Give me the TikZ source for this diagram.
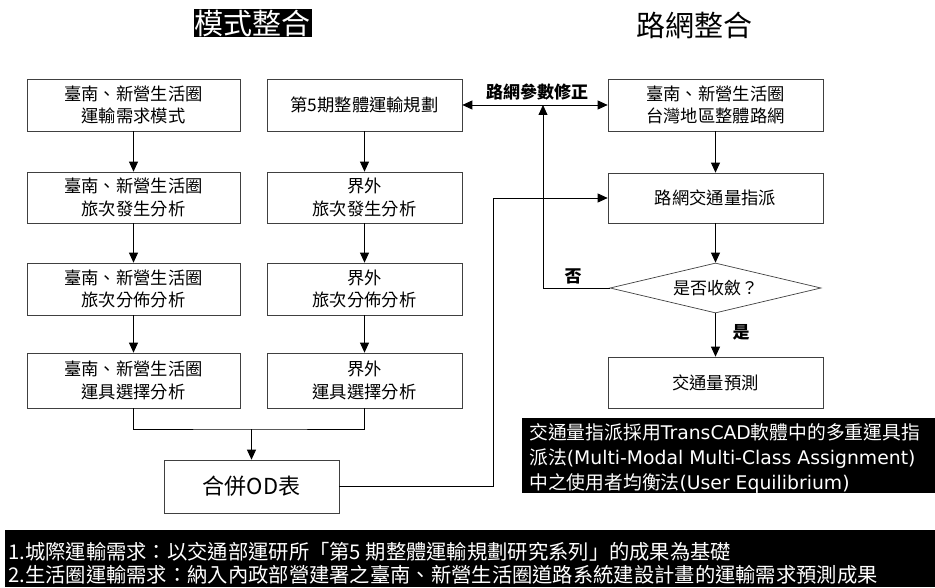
\documentclass[tikz,border=0pt]{standalone}
\usepackage{fontspec}
\setmainfont{Noto Sans CJK TC}
\newfontfamily\dejavu{DejaVu Sans}
\usetikzlibrary{arrows.meta,shapes.geometric}
\tikzset{
  flowbox/.style={draw=black!75, line width=0.7pt, align=center,
    font=\fontsize{17.3}{22.5}\selectfont, inner sep=0pt},
  arr/.style={-{Triangle[length=10pt,width=9pt]}, line width=0.8pt},
  ln/.style={line width=0.8pt},
  lbl/.style={font=\fontsize{17}{17}\selectfont\bfseries, inner sep=0pt},
  notetxt/.style={text=white, anchor=base west, inner sep=0pt, font=\fontsize{18.8}{18.8}\selectfont},
  bandtxt/.style={text=white, anchor=base west, inner sep=0pt, font=\fontsize{20.3}{20.3}\selectfont}
}
\begin{document}
\begin{tikzpicture}[x=1pt,y=-1pt]
\useasboundingbox (0,0) rectangle (935,588);
% titles
\node[fill=black, text=white, font=\fontsize{29}{29}\selectfont, inner sep=1pt] (t1) at (252.5,23) {模式整合};
\node[font=\fontsize{29}{29}\selectfont, inner sep=0pt] (t2) at (694.5,25) {路網整合};
% left column
\node[flowbox, minimum width=213pt, minimum height=52pt] (L1) at (133.5,105) {臺南、新營生活圈\\運輸需求模式};
\node[flowbox, minimum width=213pt, minimum height=51pt] (L2) at (133.5,197.5) {臺南、新營生活圈\\旅次發生分析};
\node[flowbox, minimum width=213pt, minimum height=52pt] (L3) at (133.5,289) {臺南、新營生活圈\\旅次分佈分析};
\node[flowbox, minimum width=213pt, minimum height=55pt] (L4) at (133.5,380.5) {臺南、新營生活圈\\運具選擇分析};
% middle column
\node[flowbox, minimum width=195pt, minimum height=52pt] (M1) at (364.5,105) {第5期整體運輸規劃};
\node[flowbox, minimum width=195pt, minimum height=51pt] (M2) at (364.5,197.5) {界外\\旅次發生分析};
\node[flowbox, minimum width=195pt, minimum height=52pt] (M3) at (364.5,289) {界外\\旅次分佈分析};
\node[flowbox, minimum width=195pt, minimum height=55pt] (M4) at (364.5,380.5) {界外\\運具選擇分析};
% OD
\node[flowbox, minimum width=175pt, minimum height=53pt, font=\fontsize{22}{22}\selectfont] (OD) at (251.5,486.5) {合併OD表};
% right column
\node[flowbox, minimum width=215pt, minimum height=52pt] (R1) at (715.5,105) {臺南、新營生活圈\\台灣地區整體路網};
\node[flowbox, minimum width=215pt, minimum height=50pt] (R2) at (715.5,198) {路網交通量指派};
\node[diamond, shape aspect=4.2, draw=black!75, line width=0.7pt, inner sep=0pt,
      minimum width=211pt, minimum height=50pt, font=\fontsize{17}{17}\selectfont] (D) at (715.5,288) {是否收斂？};
\node[flowbox, minimum width=215pt, minimum height=51pt] (R3) at (715.5,382.5) {交通量預測};
% connectors left/middle
\draw[arr] (L1.south) -- (L2.north);
\draw[arr] (L2.south) -- (L3.north);
\draw[arr] (L3.south) -- (L4.north);
\draw[arr] (M1.south) -- (M2.north);
\draw[arr] (M2.south) -- (M3.north);
\draw[arr] (M3.south) -- (M4.north);
\coordinate (mg) at (251.5,429);
\draw[ln] (L4.south) |- (mg) -| (M4.south);
\draw[arr] (mg) -- (OD.north);
% OD to assignment
\coordinate (jx) at (493,0);
\draw[arr] (OD.east) -- (OD.east -| jx) |- (R2.west);
% network parameter correction
\draw[{Triangle[length=10pt,width=9pt]}-{Triangle[length=10pt,width=9pt]}, line width=0.8pt] (M1.east) -- (R1.west);
\node[lbl] (pl) at (537,92) {路網參數修正};
% right column connectors
\draw[arr] (R1.south) -- (R2.north);
\draw[arr] (R2.south) -- (D.north);
\draw[arr] (D.south) -- (R3.north);
\coordinate (fb) at (543,105);
\draw[arr] (D.west) -| (fb);
\node[lbl] (no) at (573,276) {否};
\node[lbl] (yes) at (741,332) {是};
% note box
\node[fill=black, minimum width=413pt, minimum height=75pt, inner sep=0pt, anchor=north west] (note) at (522,418) {};
\node[notetxt] (n1) at (529,439) {交通量指派採用{\dejavu TransCAD}軟體中的多重運具指};
\node[notetxt] (n2) at (529,464.5) {派法{\dejavu (Multi-Modal Multi-Class Assignment)}};
\node[notetxt] (n3) at (529,489) {中之使用者均衡法{\dejavu (User Equilibrium)}};
% bottom band
\node[fill=black, minimum width=930pt, minimum height=57pt, inner sep=0pt, anchor=north west] (band) at (5,530) {};
\node[bandtxt] (b1) at (8,559.5) {1.城際運輸需求：以交通部運研所「第5 期整體運輸規劃研究系列」的成果為基礎};
\node[bandtxt] (b2) at (8,582.5) {2.生活圈運輸需求：納入內政部營建署之臺南、新營生活圈道路系統建設計畫的運輸需求預測成果};
\end{tikzpicture}
\end{document}
